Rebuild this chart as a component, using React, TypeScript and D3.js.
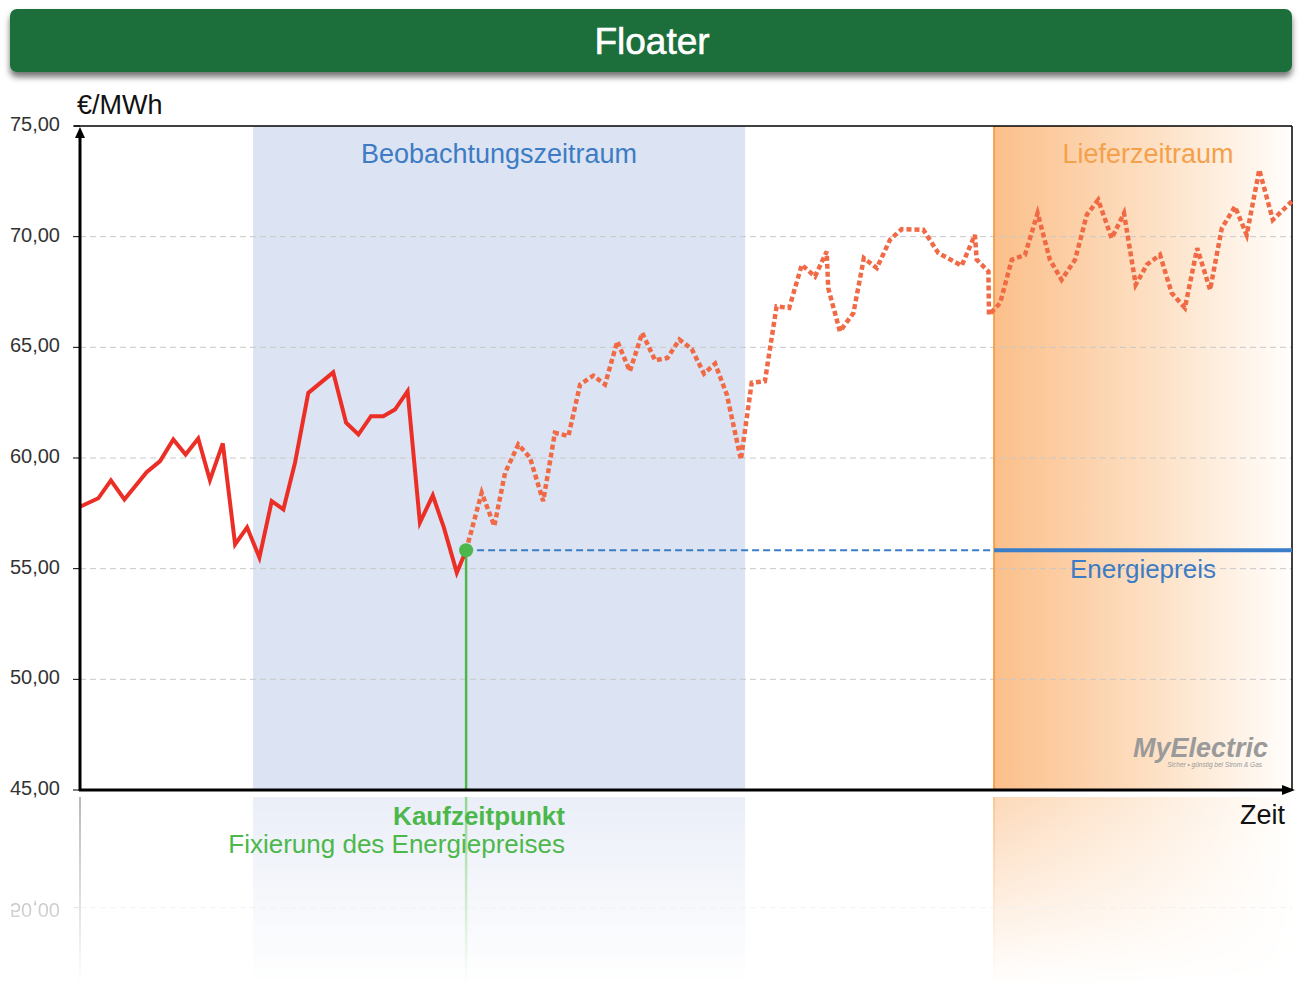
import React from "react";
import * as d3 from "d3";

// ---- data (time in arbitrary units, price in €/MWh) ----
const HIST_T = [0, 6.1, 10.3, 14.8, 22.2, 26.7, 31.1, 35.2, 39.4, 43.3, 47.6, 51.7, 55.7, 59.8, 63.9, 67.8, 71.7, 76.1, 84.4, 88.7, 92.8, 97.0, 101.1, 105, 109.2, 113.3, 117.6, 121.3, 125.6, 128.7];
const HIST_V = [57.8, 58.18, 58.99, 58.13, 59.36, 59.86, 60.84, 60.16, 60.88, 59.0, 60.66, 56.1, 56.87, 55.5, 58.05, 57.68, 59.8, 62.94, 63.87, 61.59, 61.06, 61.89, 61.89, 62.19, 63.02, 57.08, 58.31, 56.85, 54.82, 55.83];
const FC_T = [128.7, 133.9, 138.1, 141.7, 146.1, 150, 154.4, 158.3, 162.8, 166.7, 171.1, 175, 179.1, 183.3, 187.4, 191.7, 195.8, 199.8, 203.9, 208, 211.7, 215.6, 220.3, 223.9, 228.3, 232.2, 236.4, 240.6, 245, 248.9, 249.4, 253.3, 257.8, 261.3, 265.6, 270, 273.9, 281.1, 286.1, 293.9, 298.3, 298.9, 302.8, 303.0, 306.7, 310.6, 315, 319.2, 323.3, 327.2, 331.7, 335.6, 339.4, 343.9, 348, 351.9, 355.6, 360, 363.9, 368.3, 372.4, 376.7, 380.6, 385, 388.9, 393.1, 397.6, 403.9];
const FC_V = [55.83, 58.43, 56.93, 59.33, 60.61, 60.01, 58.05, 61.14, 60.99, 63.32, 63.72, 63.32, 65.27, 63.92, 65.65, 64.41, 64.52, 65.35, 64.93, 63.81, 64.26, 62.87, 59.93, 63.4, 63.47, 66.85, 66.78, 68.73, 68.2, 69.33, 67.68, 65.72, 66.55, 69.03, 68.58, 69.86, 70.34, 70.31, 69.26, 68.69, 70.08, 68.96, 68.43, 66.47, 67.0, 68.96, 69.18, 71.06, 68.96, 68.05, 68.96, 70.99, 71.66, 69.93, 71.06, 67.83, 68.73, 69.18, 67.45, 66.78, 69.48, 67.6, 70.38, 71.36, 70.08, 73.02, 70.76, 71.59];
const Y_TICKS = [75, 70, 65, 60, 55, 50, 45];
const OBS_START = 57.7;
const OBS_END = 221.7;
const DELIVERY_START = 304.7;
const BUY_T = 128.7;
const ENERGY_PRICE = 55.83;
const T_MAX = 404;

const TITLE = "Floater";
const FONT = "'Liberation Sans', Arial, Helvetica, sans-serif";

export default function App() {
  const W = 1299, H = 990;
  const L = 80, R = 1292, TOP = 126, BOT = 790;
  const x = d3.scaleLinear().domain([0, T_MAX]).range([L, R]);
  const y = d3.scaleLinear().domain([45, 75]).range([BOT, TOP]);
  const line = d3.line<[number, number]>().x(d => x(d[0])).y(d => y(d[1]));
  const hist = HIST_T.map((t, i) => [t, HIST_V[i]] as [number, number]);
  const fc = FC_T.map((t, i) => [t, FC_V[i]] as [number, number]);
  const fmt = (v: number) => v.toFixed(2).replace(".", ",");
  const mirror = 793.5;

  const bgContent = (refl: boolean) => (
    <g>
      <rect x={x(OBS_START)} y={TOP} width={x(OBS_END) - x(OBS_START)} height={BOT - TOP} fill="#dce3f2" />
      <rect x={x(DELIVERY_START)} y={TOP} width={R - x(DELIVERY_START)} height={BOT - TOP} fill="url(#orangeGrad)" />
      {Y_TICKS.filter(v => v < 75 && v > 45).map(v => (
        <line key={v} x1={L} x2={R} y1={y(v)} y2={y(v)} stroke="#c8c8c8" strokeWidth={1} strokeDasharray="6 4" />
      ))}
      <line x1={x(DELIVERY_START)} x2={x(DELIVERY_START)} y1={TOP} y2={BOT} stroke="#f7a04a" strokeWidth={2} />
      {refl && (
        <g>
          <line x1={x(BUY_T)} x2={x(BUY_T)} y1={y(ENERGY_PRICE)} y2={BOT} stroke="#4cb84c" strokeWidth={2.5} />
          <line x1={L} x2={L} y1={TOP} y2={BOT} stroke="#888" strokeWidth={2} />
          {Y_TICKS.filter(v => v === 50).map(v => (
            <g key={v}>
              <line x1={L - 6} x2={L} y1={y(v)} y2={y(v)} stroke="#888" strokeWidth={1} />
              <text x={60} y={y(v) - 2} dy="0.35em" textAnchor="end" fontSize={20} fill="#333" fontFamily={FONT}>{fmt(v)}</text>
            </g>
          ))}
        </g>
      )}
    </g>
  );

  return (
    <div style={{ position: "absolute", left: 0, top: 0 }}>
      <svg width={W} height={H} style={{ display: "block", background: "#fff" }}>
        <defs>
          <linearGradient id="orangeGrad" x1="0" x2="1" y1="0" y2="0">
            <stop offset="0" stopColor="#fbbf8a" />
            <stop offset="0.5" stopColor="#fddec0" />
            <stop offset="1" stopColor="#fffefc" />
          </linearGradient>
          <linearGradient id="reflFade" x1="0" x2="0" y1="0" y2="1">
            <stop offset="0" stopColor="#fff" stopOpacity={0.6} />
            <stop offset="1" stopColor="#fff" stopOpacity={0} />
          </linearGradient>
          <mask id="reflMask" maskUnits="userSpaceOnUse" x={0} y={mirror} width={W} height={H - mirror}>
            <rect x={0} y={mirror + 3} width={W} height={H - mirror - 8} fill="url(#reflFade)" />
          </mask>
          <filter id="shadow" x="-5%" y="-30%" width="110%" height="180%">
            <feDropShadow dx={0} dy={5} stdDeviation={3} floodColor="#000" floodOpacity={0.55} />
          </filter>
        </defs>

        {/* title bar */}
        <rect x={10} y={9} width={1282} height={63} rx={7} fill="#1b6e3a" filter="url(#shadow)" />
        <text x={652} y={41} dy="0.36em" textAnchor="middle" fill="#fff" fontSize={37} fontFamily={FONT} stroke="#fff" strokeWidth={0.6}>{TITLE}</text>

        {/* reflection */}
        <g mask="url(#reflMask)">
          <g transform={`translate(0, ${2 * mirror}) scale(1, -1)`}>{bgContent(true)}</g>
        </g>

        {/* plot background */}
        {bgContent(false)}

        {/* region labels */}
        <text x={499} y={154} dy="0.35em" textAnchor="middle" fill="#3d7cc4" fontSize={27} fontFamily={FONT}>Beobachtungszeitraum</text>
        <text x={1148} y={154} dy="0.35em" textAnchor="middle" fill="#f5a04a" fontSize={27} fontFamily={FONT}>Lieferzeitraum</text>

        {/* frame */}
        <line x1={L - 6} x2={R} y1={TOP} y2={TOP} stroke="#000" strokeWidth={1.5} />
        <line x1={R} x2={R} y1={TOP} y2={BOT} stroke="#000" strokeWidth={1.5} />

        {/* y ticks */}
        {Y_TICKS.map(v => (
          <g key={v}>
            <line x1={L - 7} x2={L} y1={y(v)} y2={y(v)} stroke="#000" strokeWidth={1} />
            <text x={60} y={y(v) - 2} dy="0.35em" textAnchor="end" fontSize={20} fill="#333" fontFamily={FONT}>{fmt(v)}</text>
          </g>
        ))}
        <text x={77} y={114} fontSize={27} fill="#111" fontFamily={FONT}>€/MWh</text>

        {/* energy price */}
        <line x1={x(BUY_T)} x2={x(DELIVERY_START)} y1={y(ENERGY_PRICE)} y2={y(ENERGY_PRICE)} stroke="#3a7dc9" strokeWidth={2} strokeDasharray="7 4" />
        <line x1={x(DELIVERY_START)} x2={R} y1={y(ENERGY_PRICE)} y2={y(ENERGY_PRICE)} stroke="#3a7dc9" strokeWidth={4} />
        <text x={1143} y={569} dy="0.35em" textAnchor="middle" fill="#3d7cc4" fontSize={26} fontFamily={FONT}>Energiepreis</text>

        {/* buy moment */}
        <line x1={x(BUY_T)} x2={x(BUY_T)} y1={y(ENERGY_PRICE)} y2={BOT} stroke="#4cb84c" strokeWidth={2.5} />

        {/* price lines */}
        <path d={line(fc) || ""} fill="none" stroke="#f06a45" strokeWidth={4.5} strokeDasharray="5 3" />
        <path d={line(hist) || ""} fill="none" stroke="#ec2f26" strokeWidth={4} strokeLinejoin="miter" />
        <circle cx={x(BUY_T)} cy={y(ENERGY_PRICE)} r={7} fill="#4cb84c" />

        {/* axes */}
        <line x1={L} x2={L} y1={BOT + 1} y2={TOP + 10} stroke="#000" strokeWidth={3} />
        <path d={`M${L - 5},${TOP + 12} L${L},${TOP + 1} L${L + 5},${TOP + 12} Z`} fill="#000" />
        <line x1={L - 1} x2={R - 6} y1={BOT} y2={BOT} stroke="#000" strokeWidth={3} />
        <path d={`M${R - 10},${BOT - 5} L${R + 3},${BOT} L${R - 10},${BOT + 5} Z`} fill="#000" />

        {/* logo */}
        <text x={1268} y={757} textAnchor="end" fontSize={27} fontWeight="bold" fontStyle="italic" fill="#9a9a9a" fontFamily={FONT}>MyElectric</text>
        <text x={1262} y={767} textAnchor="end" fontSize={6.5} fontStyle="italic" fill="#999" fontFamily={FONT}>Sicher • günstig bei Strom &amp; Gas</text>

        {/* bottom labels */}
        <text x={565} y={816} dy="0.35em" textAnchor="end" fontSize={26} fontWeight="bold" fill="#4cb84c" fontFamily={FONT}>Kaufzeitpunkt</text>
        <text x={565} y={844} dy="0.35em" textAnchor="end" fontSize={26} fill="#4cb84c" fontFamily={FONT}>Fixierung des Energiepreises</text>
        <text x={1285} y={815} dy="0.35em" textAnchor="end" fontSize={27} fill="#111" fontFamily={FONT}>Zeit</text>
      </svg>
    </div>
  );
}
